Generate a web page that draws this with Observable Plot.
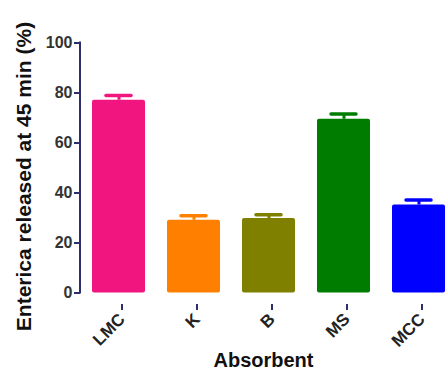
<!DOCTYPE html>
<html>
<head>
<meta charset="utf-8">
<script src="https://cdn.jsdelivr.net/npm/d3@7"></script>
<script src="https://cdn.jsdelivr.net/npm/@observablehq/plot@0.6"></script>
<style>
  html, body { margin: 0; padding: 0; background: #fff; overflow: hidden; }
  svg { overflow: visible; }
</style>
</head>
<body>
<div id="chart"></div>
<script>
const categories = ["LMC", "K", "B", "MS", "MCC"];
const means = [77.1, 29.1, 29.8, 69.5, 35.2];
const errors = [1.9, 1.8, 1.5, 2.1, 2.0];
const colors = ["#f0157f", "#ff8000", "#808000", "#007c00", "#0000ff"];
const yTicks = [0, 20, 40, 60, 80, 100];

const data = categories.map((c, i) => ({cat: c, v: means[i], hi: means[i] + errors[i]}));
const axisColor = "#2c2f6c";
const font = "'Liberation Sans', Arial, sans-serif";

const yAxisLine = (index, scales, values, dims) => {
  const y = scales.y;
  return d3.create("svg:line")
    .attr("x1", dims.marginLeft).attr("x2", dims.marginLeft)
    .attr("y1", y(0) + 1).attr("y2", y(100) - 1)
    .attr("stroke", axisColor).attr("stroke-width", 2)
    .node();
};

const chart = Plot.plot({
  width: 446,
  height: 373,
  marginLeft: 80,
  marginTop: 42,
  marginBottom: 81,
  marginRight: 0,
  style: {fontFamily: font, background: "white"},
  x: {domain: categories, range: [80, 458], paddingInner: 0.293, paddingOuter: 0.16, axis: null},
  y: {domain: [0, 100], range: [292.5, 42.5], axis: null},
  color: {domain: categories, range: colors},
  marks: [
    Plot.barY(data, {x: "cat", y: "v", fill: "cat", rx: 2}),
    Plot.ruleX(data, {x: "cat", y1: "v", y2: "hi", stroke: "cat", strokeWidth: 3}),
    Plot.tickY(data, {x: "cat", y: "hi", stroke: "cat", strokeWidth: 3.5, strokeLinecap: "round", insetLeft: 14, insetRight: 14}),
    yAxisLine,
    Plot.axisY(yTicks, {ticks: yTicks, tickSize: 6, stroke: axisColor, strokeWidth: 2, tickPadding: 2, fill: "#333", fontSize: 16, fontWeight: "bold", label: null}),
    Plot.ruleY([0], {x1: 80, x2: 460, stroke: axisColor, strokeWidth: 2}),
    Plot.axisX({tickSize: 6, stroke: axisColor, strokeWidth: 2, tickPadding: 6, tickRotate: -45, fill: "#222", fontSize: 17, fontWeight: "bold", label: null, dx: 3, dy: 12}),
    Plot.text(["Absorbent"], {frameAnchor: "bottom", dy: 74, fontSize: 20, fontWeight: "bold", fill: "#111", textAnchor: "middle"}),
    Plot.text(["Enterica released at 45 min (%)"], {frameAnchor: "left", rotate: -90, dx: -56, dy: 9, textAnchor: "middle", fontSize: 21, fontWeight: "bold", fill: "#111"})
  ]
});
document.getElementById("chart").appendChild(chart);
</script>
</body>
</html>
